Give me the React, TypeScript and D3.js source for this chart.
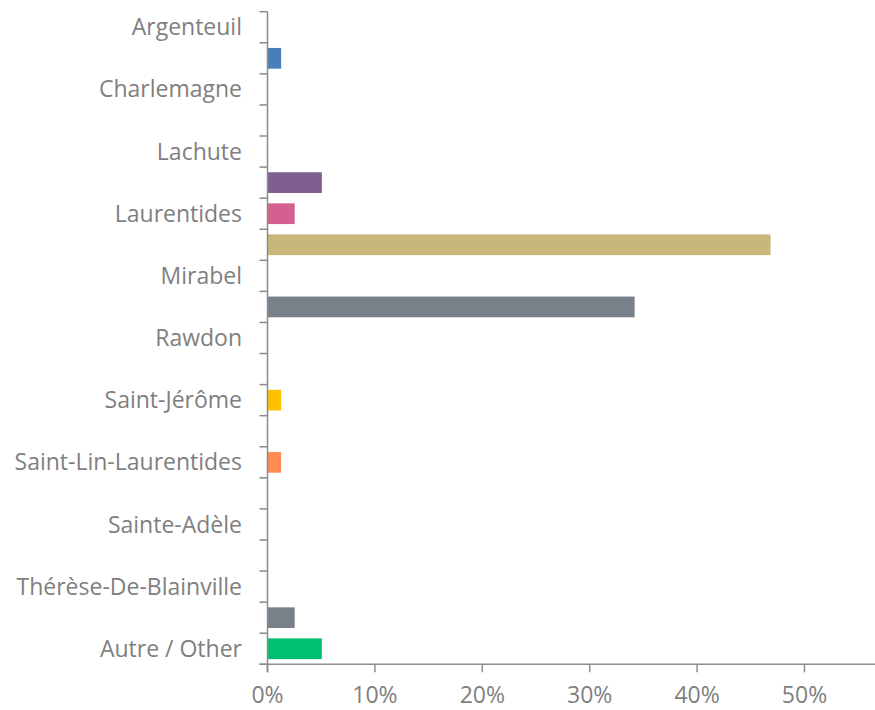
import React from "react";
import * as d3 from "d3";

// 21 categories; only every other label is displayed (Excel label interval)
const categories = [
  "Argenteuil",
  "Blainville",
  "Charlemagne",
  "Deux-Montagnes",
  "Lachute",
  "Lanaudière",
  "Laurentides",
  "Laval",
  "Mirabel",
  "Montréal",
  "Rawdon",
  "Repentigny",
  "Saint-Jérôme",
  "Saint-Lazare",
  "Saint-Lin-Laurentides",
  "Saint-Sauveur",
  "Sainte-Adèle",
  "Sainte-Thérèse",
  "Thérèse-De-Blainville",
  "Vaudreuil-Soulanges",
  "Autre / Other",
];
const values = [0, 1.27, 0, 0, 0, 5.06, 2.53, 46.84, 0, 34.18, 0, 0, 1.27, 0, 1.27, 0, 0, 0, 0, 2.53, 5.06];
const colors = [
  "#4A7EBB", "#4A7EBB", "#4A7EBB", "#4A7EBB", "#4A7EBB",
  "#7E5F8F", "#D5608F", "#C8B77A", "#78808A", "#78808A",
  "#78808A", "#78808A", "#FFC000", "#FF8C50", "#FF8C50",
  "#FF8C50", "#78808A", "#78808A", "#78808A", "#78808A", "#00BF6F",
];
const xTicks = [0, 10, 20, 30, 40, 50];

const W = 875;
const H = 710;
const AXIS = "#8C8C8C";
const TEXT = "#7F7F7F";
const FONT = "'Open Sans', sans-serif";
const FS = 23;

export default function App() {
  const top = 11.7;
  const bottom = 664.3;
  const x = d3.scaleLinear().domain([0, 60]).range([267.5, 911.9]);
  const yBand = d3.scaleBand<string>().domain(categories).range([top, bottom]).padding(0);
  const y = d3
    .scaleBand<string>()
    .domain(categories)
    .range([top, bottom])
    .paddingInner(1 / 3)
    .paddingOuter(1 / 6);
  const step = yBand.step();
  const x0 = x(0);

  return (
    <svg
      width={W}
      height={H}
      style={{ position: "absolute", left: 0, top: 0, background: "#fff" }}
    >
      {/* bars */}
      {categories.map((c, i) =>
        values[i] > 0 ? (
          <rect
            key={c}
            x={x0}
            y={y(c)}
            width={x(values[i]) - x0}
            height={y.bandwidth()}
            fill={colors[i]}
          />
        ) : null
      )}
      {/* y axis */}
      <line x1={x0} x2={x0} y1={top} y2={bottom + 8} stroke={AXIS} strokeWidth={1.5} />
      {d3.range(categories.length + 1).map((i) => {
        const yy = top + i * step;
        return <line key={"yt" + i} x1={x0 - 8} x2={x0} y1={yy} y2={yy} stroke={AXIS} strokeWidth={1.5} />;
      })}
      {categories.map((c, i) =>
        i % 2 === 0 ? (
          <text
            key={"yl" + c}
            x={242}
            y={(yBand(c) as number) + step / 2}
            dy="0.35em"
            textAnchor="end"
            fill={TEXT}
            fontFamily={FONT}
            fontSize={FS}
          >
            {c}
          </text>
        ) : null
      )}
      {/* x axis */}
      <line x1={x0 - 8} x2={W} y1={bottom} y2={bottom} stroke={AXIS} strokeWidth={1.5} />
      {xTicks.map((t) => (
        <g key={"xt" + t}>
          <line x1={x(t)} x2={x(t)} y1={bottom} y2={bottom + 8} stroke={AXIS} strokeWidth={1.5} />
          <text
            x={x(t)}
            y={703}
            textAnchor="middle"
            fill={TEXT}
            fontFamily={FONT}
            fontSize={FS}
          >
            {t + "%"}
          </text>
        </g>
      ))}
    </svg>
  );
}
